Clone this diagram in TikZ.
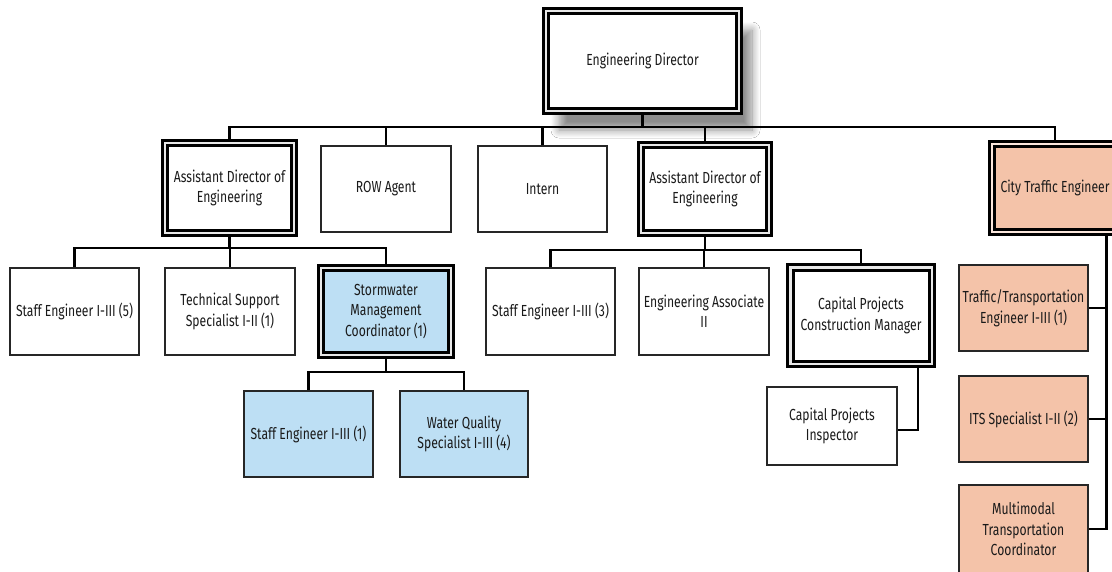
\documentclass[tikz,border=0pt]{standalone}
\usepackage{fontspec}
\setmainfont{Fira Sans}[FakeStretch=0.76]
\usetikzlibrary{shadows.blur}
\definecolor{txt}{HTML}{1A1A1A}
\definecolor{bluef}{HTML}{BDDFF4}
\definecolor{salf}{HTML}{F4C3A9}
\definecolor{gap}{HTML}{E8E8E8}
\tikzset{
  box/.style={draw=black!85, line width=1.3pt, fill=white, align=center,
    text=txt, font=\fontsize{16}{20.5}\selectfont, inner sep=2pt},
  dbl/.style={draw=black, double=gap, double distance=2.5pt, line width=3pt,
    fill=white, align=center, text=txt, font=\fontsize{16}{20.5}\selectfont, inner sep=2pt},
  conn/.style={line width=2.8pt, black},
}
\begin{document}
\begin{tikzpicture}[x=1pt,y=-1pt]
\clip (0,0) rectangle (1112,571);
\fill[white] (0,0) rectangle (1112,571);

% director
\node[dbl, minimum width=193pt, minimum height=100pt,
  blur shadow={shadow xshift=13pt, shadow yshift=-19pt, shadow blur radius=8pt, shadow blur steps=12, shadow opacity=45}]
  (dir) at (642.5,61) {Engineering Director};

% level 1
\node[dbl, minimum width=129pt, minimum height=90pt] (ade1) at (229.5,188) {Assistant Director of\\Engineering};
\node[box, minimum width=130pt, minimum height=86pt] (row) at (386,189) {ROW Agent};
\node[box, minimum width=129pt, minimum height=86pt] (intern) at (542.5,189) {Intern};
\node[dbl, minimum width=128pt, minimum height=88pt] (ade2) at (705,189) {Assistant Director of\\Engineering};
\node[dbl, fill=salf, double=salf!40!white, minimum width=126pt, minimum height=88pt] (cte) at (1055,188) {City Traffic Engineer};

% level 2 left
\node[box, minimum width=129pt, minimum height=87pt] (staff5) at (74.5,311.5) {Staff Engineer I-III (5)};
\node[box, minimum width=130pt, minimum height=87pt] (tech) at (230,311.5) {Technical Support\\Specialist I-II (1)};
\node[dbl, fill=bluef, minimum width=130pt, minimum height=87pt] (storm) at (386,311.5) {Stormwater\\Management\\Coordinator (1)};

% level 2 middle
\node[box, minimum width=129pt, minimum height=87pt] (staff3) at (550.5,311.5) {Staff Engineer I-III (3)};
\node[box, minimum width=130pt, minimum height=87pt] (assoc) at (704,311.5) {Engineering Associate\\II};
\node[dbl, minimum width=141.5pt, minimum height=96.5pt] (cpcm) at (861,315.5) {Capital Projects\\Construction Manager};

% level 3
\node[box, fill=bluef, minimum width=129pt, minimum height=86pt] (staff1) at (308.5,434) {Staff Engineer I-III (1)};
\node[box, fill=bluef, minimum width=128pt, minimum height=86pt] (wq) at (464,434) {Water Quality\\Specialist I-III (4)};
\node[box, minimum width=130pt, minimum height=78pt] (cpi) at (832,426) {Capital Projects\\Inspector};

% traffic column
\node[box, fill=salf, minimum width=129pt, minimum height=86pt] (traffic) at (1023.5,308) {Traffic/Transportation\\Engineer I-III (1)};
\node[box, fill=salf, minimum width=129pt, minimum height=86pt] (its) at (1023.5,419) {ITS Specialist I-II (2)};
\node[box, fill=salf, minimum width=129pt, minimum height=88pt] (mm) at (1023.5,529) {Multimodal\\Transportation\\Coordinator};

% connector helper coordinates
\coordinate (bus) at (0,127);
\coordinate (b1) at (0,248);
\coordinate (b2) at (0,250);
\coordinate (b3) at (0,372);
\coordinate (px) at (918,0);
\coordinate (cx) at (1106.5,0);

% top bus
\draw[conn] (dir.south) -- (dir.south |- bus);
\draw[conn] (ade1.north) -- (ade1.north |- bus) -- (cte.north |- bus) -- (cte.north);
\draw[conn] (row.north |- bus) -- (row.north);
\draw[conn] (intern.north |- bus) -- (intern.north);
\draw[conn] (ade2.north |- bus) -- (ade2.north);

% ADE1 subtree
\draw[conn] (ade1.south) -- (ade1.south |- b1);
\draw[conn] (staff5.north) |- (storm.north |- b1) -- (storm.north);
\draw[conn] (tech.north |- b1) -- (tech.north);

% ADE2 subtree
\draw[conn] (ade2.south) -- (ade2.south |- b2);
\draw[conn] (staff3.north) |- (cpcm.north |- b2) -- (cpcm.north);
\draw[conn] (assoc.north |- b2) -- (assoc.north);

% stormwater subtree
\draw[conn] (storm.south) -- (storm.south |- b3);
\draw[conn] (staff1.north) |- (wq.north |- b3) -- (wq.north);

% CPCM -> inspector
\draw[conn] (px |- cpcm.south) |- ([yshift=-4pt]cpi.east);

% CTE column
\draw[conn] (cx |- cte.south) |- (mm.east);
\draw[conn] (traffic.east) -- (traffic.east -| cx);
\draw[conn] (its.east) -- (its.east -| cx);
\end{tikzpicture}
\end{document}
